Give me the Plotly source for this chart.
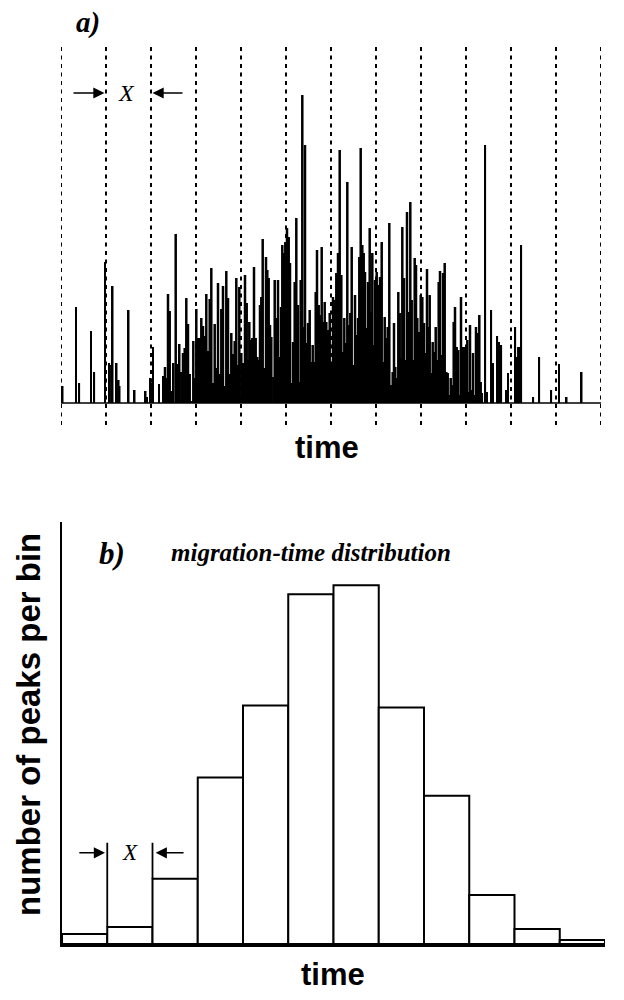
import plotly.graph_objects as go

# ---- data ----
# a) peak train: retention time (time units, bin width X = 45) and peak height
peak_time = [0.3, 1.7, 15, 18.3, 30, 33.3, 44, 48.3, 50.3, 51.7, 55.7, 57.3, 58.7, 67.7, 73.7,
             84.7, 86, 89.7, 90.7, 92, 98, 102.3, 104, 105.3, 107, 108.7, 110.3, 112.7, 114.7,
             116.3, 118.7, 120.3, 122, 123.7, 125.3, 127, 128.7, 130.3, 132.3, 134, 135.3, 137,
             138.7, 140.3, 142, 143.7, 145.3, 147, 148.7, 150.3, 152, 153.7, 155.3, 157, 158.7,
             160.3, 162, 163.7, 165.3, 167, 168.7, 170.3, 172, 173.7, 175.3, 177, 178.3, 180.3,
             182, 184, 185.7, 187, 188.3, 189.7, 191.3, 193, 194.7, 196.3, 197.7, 199, 200.3,
             201.7, 203.3, 205, 206.3, 207.7, 209, 210.3, 212.3, 213.7, 215.3, 217, 218.7, 220,
             221.3, 223, 224.3, 226, 227.7, 229, 230.3, 232, 233.7, 235.3, 237, 238.3, 239.7,
             241.3, 242.7, 244, 245.7, 247, 248.7, 250, 251.7, 253, 254.7, 256, 257.7, 259,
             260.7, 262.3, 263.7, 265.3, 267, 268.7, 270.3, 272, 273.7, 275.3, 277, 278.7,
             280.3, 282, 283.3, 284.7, 286.3, 288, 289.3, 290.7, 292.3, 294, 295.3, 297, 298.3,
             299.7, 301.3, 302.7, 304, 305.7, 307, 308.7, 310, 311.3, 312.7, 314, 315.7, 317.3,
             319, 320.7, 322, 323.7, 325.3, 326.7, 328.3, 330, 331.7, 333, 334.3, 336, 337.3,
             338.7, 340, 341.3, 343, 344.3, 346, 347.7, 349.3, 350.7, 352, 353.7, 355, 356.3,
             358, 359.7, 361.3, 363, 364.7, 366, 367.3, 368.7, 370.3, 371.7, 373.3, 374.7,
             376.3, 377.7, 379, 380.7, 382, 383.7, 385.3, 386.7, 388.3, 389.7, 391, 392.7, 394,
             395.7, 397.3, 398.7, 400, 401.7, 403.3, 405, 406.3, 407.7, 409, 410.7, 412, 413.7,
             415, 416.7, 418.3, 419.7, 421.3, 424.3, 426, 430.3, 432, 436.3, 438, 440.3, 445.3,
             447, 454.3, 455.7, 457.3, 459, 460.3, 472.3, 478.3, 490.3, 498, 505.7, 520.7]
peak_height = [15, 17, 96, 20, 72, 31, 141, 40, 38, 117, 40, 23, 17, 93, 13,
               12, 6, 25, 20, 56, 19, 27, 36, 25, 109, 92, 12, 40, 169,
               39, 59, 31, 50, 55, 105, 79, 29, 2, 62, 25, 94, 65,
               65, 85, 77, 67, 109, 52, 104, 135, 20, 79, 35, 120, 29,
               94, 117, 17, 132, 105, 29, 70, 49, 62, 125, 38, 116, 50,
               40, 128, 100, 43, 81, 63, 65, 136, 65, 46, 43, 98, 106,
               164, 35, 146, 133, 125, 78, 66, 26, 123, 85, 123, 46, 96,
               158, 150, 161, 175, 166, 140, 20, 61, 121, 185, 98, 21, 123,
               308, 76, 258, 60, 80, 93, 41, 58, 41, 111, 153, 98, 88,
               156, 81, 101, 81, 73, 90, 38, 106, 103, 130, 150, 253,
               128, 51, 85, 60, 221, 78, 90, 156, 38, 108, 68, 85, 146,
               255, 158, 150, 131, 75, 121, 175, 91, 150, 58, 123, 131, 118,
               126, 161, 41, 86, 65, 76, 180, 18, 31, 80, 36, 25, 111,
               90, 45, 176, 125, 43, 191, 91, 201, 103, 43, 145, 138, 85,
               71, 108, 106, 80, 50, 134, 76, 108, 30, 61, 51, 76,
               43, 121, 132, 48, 130, 140, 31, 30, 8, 25, 18, 81, 96,
               56, 53, 8, 106, 56, 56, 56, 63, 11, 78, 13, 50, 8,
               76, 70, 88, 21, 10, 258, 11, 93, 40, 67, 61, 58, 13,
               30, 76, 46, 56, 56, 158, 6, 46, 13, 39, 6, 31]

bin_width = 45
n_bins = 12
bin_edges = [i * bin_width for i in range(n_bins + 1)]

# b) number of peaks found in each bin of width X
hist_counts = [10, 17, 65, 166, 238, 349, 358, 236, 148, 49, 15, 4]

W, H = 624, 1000

fig = go.Figure()

# ---- panel a ----
# dashed bin boundaries
xs, ys = [], []
for e in bin_edges:
    xs += [e, e, None]
    ys += [-22, 356, None]
fig.add_trace(go.Scatter(x=xs, y=ys, mode='lines',
                         line=dict(color='black', width=2, dash='4px,4.5px'),
                         xaxis='x', yaxis='y', hoverinfo='skip'))

# peaks packed closely together merge into a solid mass, isolated ones stay thin
n = len(peak_time)
bar_w = []
for i in range(n):
    left = peak_time[i] - peak_time[i - 1] if i > 0 else 99
    right = peak_time[i + 1] - peak_time[i] if i < n - 1 else 99
    bar_w.append(2.5 if (left < 2.1 and right < 2.1) else 1.6)

fig.add_trace(go.Bar(x=peak_time, y=peak_height, width=bar_w,
                     marker=dict(color='black', line=dict(width=0)),
                     xaxis='x', yaxis='y'))

# baseline
fig.add_trace(go.Scatter(x=[bin_edges[0], bin_edges[-1]], y=[0, 0], mode='lines',
                         line=dict(color='black', width=1.6),
                         xaxis='x', yaxis='y', hoverinfo='skip'))

# ---- panel b ----
centers = [i + 0.5 for i in range(n_bins)]
fig.add_trace(go.Bar(x=centers, y=hist_counts, width=1,
                     marker=dict(color='white', line=dict(color='black', width=2)),
                     xaxis='x2', yaxis='y2'))

arrow_level_b = 91
for k in [1, 2]:
    fig.add_trace(go.Scatter(x=[k, k], y=[max(hist_counts[k - 1], hist_counts[k]), arrow_level_b + 10],
                             mode='lines', line=dict(color='black', width=1.8),
                             xaxis='x2', yaxis='y2', hoverinfo='skip'))

arrow_level_a = 310
serif = 'Liberation Serif'
sans = 'Liberation Sans'


def arrow(x, ax, y, xr, yr):
    return dict(x=x, y=y, ax=ax, ay=y, xref=xr, yref=yr, axref=xr, ayref=yr, text='',
                showarrow=True, arrowhead=2, arrowsize=1.4, arrowwidth=1.6,
                arrowcolor='black', standoff=0)


def label(x, y, text, family, size, angle=0):
    return dict(x=x / W, y=1 - y / H, xref='paper', yref='paper', text=text,
                xanchor='center', yanchor='middle', textangle=angle, showarrow=False,
                font=dict(family=family, size=size, color='black'))


annotations = [
    # panel a X arrows
    arrow(bin_edges[1] - 1.5, bin_edges[1] - 34, arrow_level_a, 'x', 'y'),
    arrow(bin_edges[2] + 1.5, bin_edges[2] + 33, arrow_level_a, 'x', 'y'),
    dict(x=(bin_edges[1] + bin_edges[2]) / 2 - 2, y=arrow_level_a, xref='x', yref='y',
         xanchor='center', yanchor='middle',
         text='<i>X</i>', showarrow=False, font=dict(family=serif, size=24, color='black')),
    # panel b X arrows
    arrow(0.95, 0.35, arrow_level_b, 'x2', 'y2'),
    arrow(2.07, 2.72, arrow_level_b, 'x2', 'y2'),
    dict(x=1.5, y=arrow_level_b, xref='x2', yref='y2', xanchor='center', yanchor='middle',
         text='<i>X</i>', showarrow=False, font=dict(family=serif, size=23, color='black')),
    # labels
    label(88, 22, '<b><i>a)</i></b>', serif, 29),
    label(112, 553, '<b><i>b)</i></b>', serif, 31),
    label(311, 552, '<b><i>migration-time distribution</i></b>', serif, 25),
    label(327, 447, '<b>time</b>', sans, 31),
    label(333, 974, '<b>time</b>', sans, 31),
    label(28, 725, '<b>number of peaks per bin</b>', sans, 33, -90),
]

hidden = dict(showgrid=False, zeroline=False, showticklabels=False, ticks='', showline=False)

fig.update_layout(
    width=W, height=H,
    margin=dict(l=0, r=0, t=0, b=0),
    paper_bgcolor='white', plot_bgcolor='white',
    showlegend=False,
    xaxis=dict(domain=[61 / W, 601 / W], range=[0, 540], anchor='y', **hidden),
    yaxis=dict(domain=[1 - 425 / H, 1 - 47 / H], range=[-22, 356], anchor='x', **hidden),
    xaxis2=dict(domain=[62 / W, 605 / W], range=[0, 12], anchor='y2', showgrid=False,
                zeroline=False, showticklabels=False, ticks='', showline=True,
                linecolor='black', linewidth=2.5),
    yaxis2=dict(domain=[1 - 944 / H, 1 - 522 / H], range=[0, 421], anchor='x2', showgrid=False,
                zeroline=False, showticklabels=False, ticks='', showline=True,
                linecolor='black', linewidth=2),
    annotations=annotations,
)

fig.write_html("out.html", config={'displayModeBar': False},
               post_script="document.body.style.margin='0';")
